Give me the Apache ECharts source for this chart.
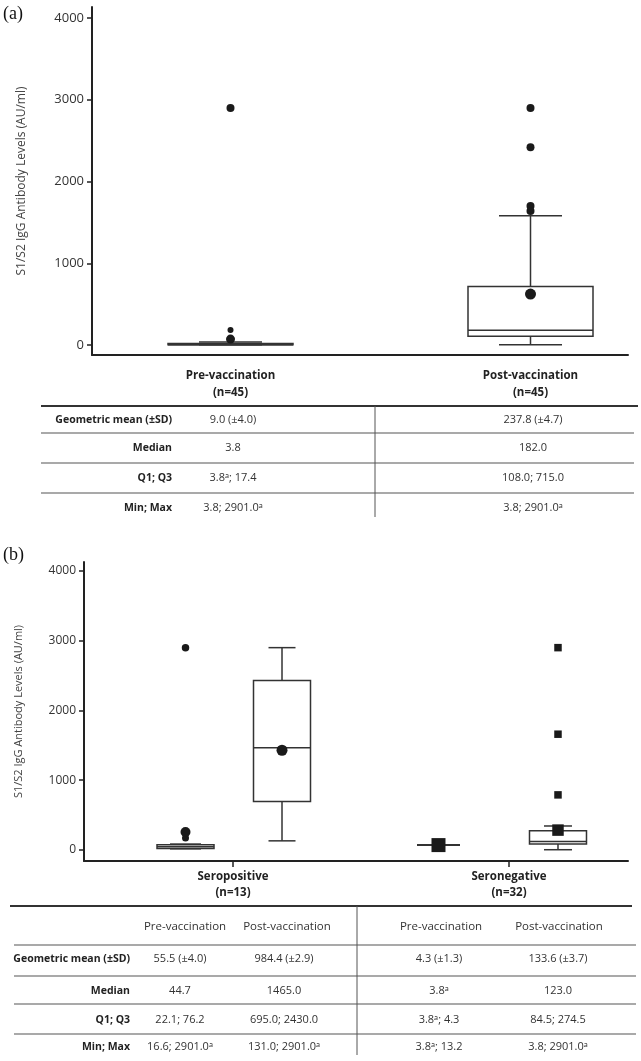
<!DOCTYPE html>
<html><head><meta charset="utf-8">
<script src="https://cdn.jsdelivr.net/npm/echarts@6/dist/echarts.min.js"></script>
<style>html,body{margin:0;padding:0;background:#fff}#c{width:641px;height:1061px}</style>
</head><body><div id="c"></div>
<script>
// ---------------- DATA ----------------
const yTitle = 'S1/S2 IgG Antibody Levels (AU/ml)';
const yTicks = [0, 1000, 2000, 3000, 4000];

// Panel (a)
const groupsA = ['Pre-vaccination', 'Post-vaccination'];
const nA = [45, 45];
// [low whisker, Q1, median, Q3, high whisker]
const boxA = [
  [3.8, 3.8, 3.8, 17.4, 37],
  [3.8, 108, 182, 715, 1580]
];
const outliersA = [[2901, 184], [2901, 2420, 1700, 1640]];
const meansA = [73, 624];

// Panel (b)
const groupsB = ['Seropositive', 'Seronegative'];
const nB = [13, 32];
const boxGroupB = [0, 0, 1, 1]; // group index of each box: sero+ pre, sero+ post, sero- pre, sero- post
const boxB = [
  [16.6, 22.1, 44.7, 76.2, 85],
  [131, 695, 1465, 2430, 2901],
  [70, 70, 70, 70, 70],
  [3.8, 84.5, 123, 274.5, 344]
];
const outliersB = [[2901, 170], [], [], [2901, 1660, 790]];
const meansB = [258, 1430, 70, 285];

// Tables
const tableRows = ['Geometric mean (±SD)', 'Median', 'Q1; Q3', 'Min; Max'];
const tableAPre = ['9.0 (±4.0)', '3.8', '3.8ᵃ; 17.4', '3.8; 2901.0ᵃ'];
const tableAPost = ['237.8 (±4.7)', '182.0', '108.0; 715.0', '3.8; 2901.0ᵃ'];
const tableBHeaders = ['Pre-vaccination', 'Post-vaccination', 'Pre-vaccination', 'Post-vaccination'];
const tableBSeroPosPre = ['55.5 (±4.0)', '44.7', '22.1; 76.2', '16.6; 2901.0ᵃ'];
const tableBSeroPosPost = ['984.4 (±2.9)', '1465.0', '695.0; 2430.0', '131.0; 2901.0ᵃ'];
const tableBSeroNegPre = ['4.3 (±1.3)', '3.8ᵃ', '3.8ᵃ; 4.3', '3.8ᵃ; 13.2'];
const tableBSeroNegPost = ['133.6 (±3.7)', '123.0', '84.5; 274.5', '3.8; 2901.0ᵃ'];

// ---------------- LAYOUT / STYLE ----------------
const FONT = '"Open Sans", "Noto Sans", "DejaVu Sans", sans-serif';
const INK = '#222';
const LINE = '#333';

const layoutA = { dx: [0, 0], boxW: [125, 125], capW: [63, 63],
  outSize: [[8, 6], [8, 8, 8, 8]], meanSize: [9, 11] };
const layoutB = { dx: [-47.5, 49, -70.5, 49], boxW: [57, 57, 43, 57], capW: [31, 27, 43, 28],
  outSize: [[7.5, 7], [], [], [7.5, 7.5, 7.5]], meanSize: [10, 11, 14, 11.5],
  symbol: ['circle', 'circle', 'rect', 'rect'] };

function boxSeries(xi, data, lay) {
  return {
    type: 'custom', xAxisIndex: xi, yAxisIndex: xi, z: 2, silent: true,
    data: data,
    renderItem(params, api) {
      const i = params.dataIndex;
      const g = api.value(0);
      const cx = api.coord([g, 0])[0] + lay.dx[i];
      const y = k => api.coord([g, api.value(k)])[1];
      const lo = y(1), q1 = y(2), md = y(3), q3 = y(4), hi = y(5);
      const bw = lay.boxW[i], cw = lay.capW[i];
      const st = { stroke: LINE, lineWidth: 1.5, fill: null };
      return { type: 'group', children: [
        { type: 'line', shape: { x1: cx, y1: lo, x2: cx, y2: q1 }, style: st },
        { type: 'line', shape: { x1: cx, y1: q3, x2: cx, y2: hi }, style: st },
        { type: 'line', shape: { x1: cx - cw / 2, y1: lo, x2: cx + cw / 2, y2: lo }, style: st },
        { type: 'line', shape: { x1: cx - cw / 2, y1: hi, x2: cx + cw / 2, y2: hi }, style: st },
        { type: 'rect', shape: { x: cx - bw / 2, y: q3, width: bw, height: Math.max(q1 - q3, 0) },
          style: { stroke: LINE, lineWidth: 1.5, fill: '#fff' } },
        { type: 'line', shape: { x1: cx - bw / 2, y1: md, x2: cx + bw / 2, y2: md }, style: st }
      ] };
    }
  };
}

function pointSeries(xi, g, values, sizes, dx, symbol) {
  return {
    type: 'scatter', xAxisIndex: xi, yAxisIndex: xi, z: 5, silent: true,
    symbol: symbol || 'circle',
    symbolOffset: [dx, 0],
    symbolSize: (v, p) => sizes[p.dataIndex],
    itemStyle: { color: '#1a1a1a', opacity: 1 },
    data: values.map(v => [g, v])
  };
}

const series = [];
series.push(boxSeries(0, boxA.map((b, i) => [i, ...b]), layoutA));
boxA.forEach((b, i) => {
  series.push(pointSeries(0, i, outliersA[i], layoutA.outSize[i], layoutA.dx[i]));
  series.push(pointSeries(0, i, [meansA[i]], [layoutA.meanSize[i]], layoutA.dx[i]));
});
series.push(boxSeries(1, boxB.map((b, i) => [boxGroupB[i], ...b]), layoutB));
boxB.forEach((b, i) => {
  series.push(pointSeries(1, boxGroupB[i], outliersB[i], layoutB.outSize[i], layoutB.dx[i], layoutB.symbol[i]));
  series.push(pointSeries(1, boxGroupB[i], [meansB[i]], [layoutB.meanSize[i]], layoutB.dx[i], layoutB.symbol[i]));
});

function yAxisCfg(gi, min, max, fs, nameFs, nameGap) {
  return {
    gridIndex: gi, type: 'value', min: min, max: max,
    splitLine: { show: false },
    axisLine: { show: true, onZero: false, lineStyle: { color: INK, width: 2 } },
    axisTick: { show: true, customValues: yTicks, length: 5, lineStyle: { color: INK, width: 1.5 } },
    axisLabel: { customValues: yTicks, margin: 8, color: '#333', fontSize: fs, fontFamily: FONT,
      formatter: v => String(Math.round(v)) },
    name: yTitle, nameLocation: 'middle', nameRotate: 90, nameGap: nameGap,
    nameTextStyle: { color: '#444', fontSize: nameFs, fontFamily: FONT }
  };
}
function xAxisCfg(gi, min, max, groups, ns, margin, showTick, lh) {
  return {
    gridIndex: gi, type: 'value', min: min, max: max,
    splitLine: { show: false },
    axisLine: { show: true, onZero: false, lineStyle: { color: INK, width: 2 } },
    axisTick: { show: showTick, customValues: [0, 1], length: 6, lineStyle: { color: INK, width: 1.5 } },
    axisLabel: {
      customValues: [0, 1], margin: margin,
      formatter: v => '{b|' + groups[Math.round(v)] + '}\n{b|(n=' + ns[Math.round(v)] + ')}',
      rich: { b: { fontFamily: FONT, fontWeight: 'bold', fontSize: 11.5, color: INK, lineHeight: lh, align: 'center' } }
    }
  };
}

// ---------------- TABLE GRAPHICS ----------------
const graphic = [];
function txt(x, y, s, opt) {
  graphic.push({ type: 'text', silent: true, style: Object.assign({
    x: x, y: y, text: s, fill: '#333', font: '10.5px ' + FONT, align: 'center', verticalAlign: 'middle'
  }, opt || {}) });
}
function ln(x1, y1, x2, y2, w, c) {
  graphic.push({ type: 'line', silent: true, shape: { x1, y1, x2, y2 }, style: { stroke: c || '#444', lineWidth: w } });
}
txt(3, 14, '(a)', { font: '18px "Liberation Serif", "DejaVu Serif", serif', fill: '#111', align: 'left' });
txt(3, 555, '(b)', { font: '18px "Liberation Serif", "DejaVu Serif", serif', fill: '#111', align: 'left' });

// table (a)
ln(41, 406, 638, 406, 2, '#333');
[433, 463, 493].forEach(y => ln(41, y, 634, y, 1.2, '#555'));
ln(375, 406, 375, 517, 1, '#555');
const rowYA = [420, 448, 478, 508];
tableRows.forEach((r, i) => {
  txt(172, rowYA[i], r, { align: 'right', font: 'bold 10.5px ' + FONT, fill: INK });
  txt(233, rowYA[i], tableAPre[i], { font: '11px ' + FONT });
  txt(533, rowYA[i], tableAPost[i], { font: '11px ' + FONT });
});

// table (b)
ln(10, 906, 632, 906, 2, '#333');
[945, 976, 1004, 1034].forEach(y => ln(14, y, 636, y, 1.2, '#555'));
ln(357, 906, 357, 1055, 1, '#555');
const headXB = [185, 287, 441, 559];
tableBHeaders.forEach((h, i) => txt(headXB[i], 927, h, { font: '11.5px ' + FONT }));
const rowYB = [959, 991, 1020, 1047];
const colXB = [180, 284, 439, 558];
const colsB = [tableBSeroPosPre, tableBSeroPosPost, tableBSeroNegPre, tableBSeroNegPost];
tableRows.forEach((r, i) => {
  txt(130, rowYB[i], r, { align: 'right', font: 'bold 10.5px ' + FONT, fill: INK });
  colsB.forEach((col, j) => txt(colXB[j], rowYB[i], col[i], { font: '11px ' + FONT }));
});

// ---------------- CHART ----------------
const chart = echarts.init(document.getElementById('c'), null, { renderer: 'canvas' });
chart.setOption({
  backgroundColor: '#fff',
  animation: false,
  grid: [
    { left: 92, top: 7, width: 536, height: 348 },
    { left: 84, top: 562, width: 544, height: 299 }
  ],
  xAxis: [
    xAxisCfg(0, -0.4617, 1.325, groupsA, nA, 12, false, 17),
    xAxisCfg(1, -0.5399, 1.4312, groupsB, nB, 8, true, 16)
  ],
  yAxis: [
    yAxisCfg(0, -122, 4135, 13, 12, 64),
    yAxisCfg(1, -158, 4129, 12, 11, 60)
  ],
  series: series,
  graphic: graphic
});
</script></body></html>
